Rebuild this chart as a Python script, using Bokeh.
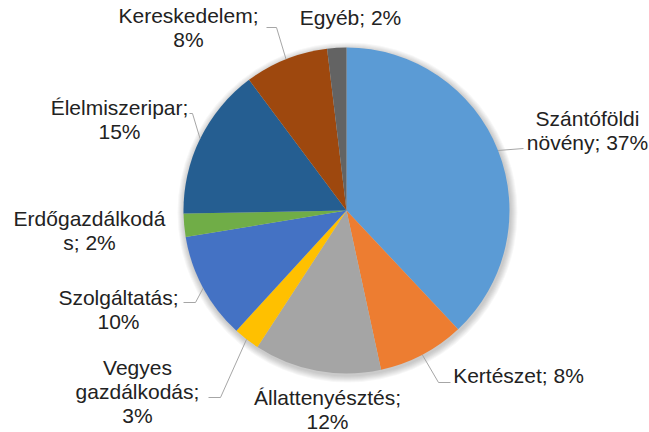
import math
from bokeh.plotting import figure
from bokeh.models import Range1d
from bokeh.embed import file_html
from bokeh.resources import INLINE
from bokeh.core.properties import value

# ---- data ----
categories = ["Szántóföldi növény", "Kertészet", "Állattenyésztés", "Vegyes gazdálkodás",
              "Szolgáltatás", "Erdőgazdálkodás", "Élelmiszeripar", "Kereskedelem", "Egyéb"]
shares = [38.0, 8.6, 12.6, 2.6, 10.6, 2.3, 15.1, 8.3, 1.9]
label_texts = ["Szántóföldi\nnövény; 37%", "Kertészet; 8%", "Állattenyésztés;\n12%",
               "Vegyes\ngazdálkodás;\n3%", "Szolgáltatás;\n10%", "Erdőgazdálkodá\ns; 2%",
               "Élelmiszeripar;\n15%", "Kereskedelem;\n8%", "Egyéb; 2%"]

# ---- style / layout ----
colors = ["#5B9BD5", "#ED7D31", "#A5A5A5", "#FFC000", "#4472C4",
          "#70AD47", "#255E91", "#9E480E", "#636363"]
CX, CY, R = 346, -210, 163
label_x = [587, 518, 327, 137, 118, 89, 119, 188, 350]
label_y = [-130, -375, -409, -391, -309, -230, -119, -27, -17]
# leader elbows (None = no leader)
leader_pts = [
    [(523, -148)],
    [(438, -382), (450, -382)],
    None,
    [(220, -397), (208, -397)],
    [(195, -302), (183, -302)],
    None,
    [(192, -113), (189, -113)],
    [(276, -27), (266, -27)],
    None,
]

total = sum(shares)
starts, ends, mids = [], [], []
cum = 0.0
for s in shares:
    a0 = 2 * math.pi * cum / total
    a1 = 2 * math.pi * (cum + s) / total
    starts.append(math.pi / 2 - a0)
    ends.append(math.pi / 2 - a1)
    mids.append((a0 + a1) / 2)
    cum += s

p = figure(width=649, height=432, x_range=Range1d(0, 649), y_range=Range1d(-432, 0),
           output_backend="svg", toolbar_location=None, min_border=0,
           x_axis_location=None, y_axis_location=None, outline_line_color=None,
           background_fill_color="white", border_fill_color="white")
p.grid.visible = False

# soft shadow
for k in range(7, 0, -1):
    p.circle(x=[CX + 1], y=[CY - 2], radius=R + k, fill_color="black",
             fill_alpha=0.03, line_color=None)

p.wedge(x=CX, y=CY, radius=R, start_angle=starts, end_angle=ends, direction="clock",
        fill_color=colors, line_color=None)

xs, ys = [], []
for i, pts in enumerate(leader_pts):
    if pts is None:
        continue
    th = mids[i]
    x0 = CX + R * math.sin(th)
    y0 = CY + R * math.cos(th)
    xs.append([x0] + [q[0] for q in pts])
    ys.append([y0] + [q[1] for q in pts])
p.multi_line(xs, ys, line_color="#A6A6A6", line_width=1)

p.text(x=label_x, y=label_y, text=label_texts, text_align="center", text_baseline="middle",
       text_font=value("Liberation Sans"), text_font_size=value("21px"),
       text_color="#222222", text_line_height=1.05)

open("out.html", "w").write(file_html(p, INLINE))
